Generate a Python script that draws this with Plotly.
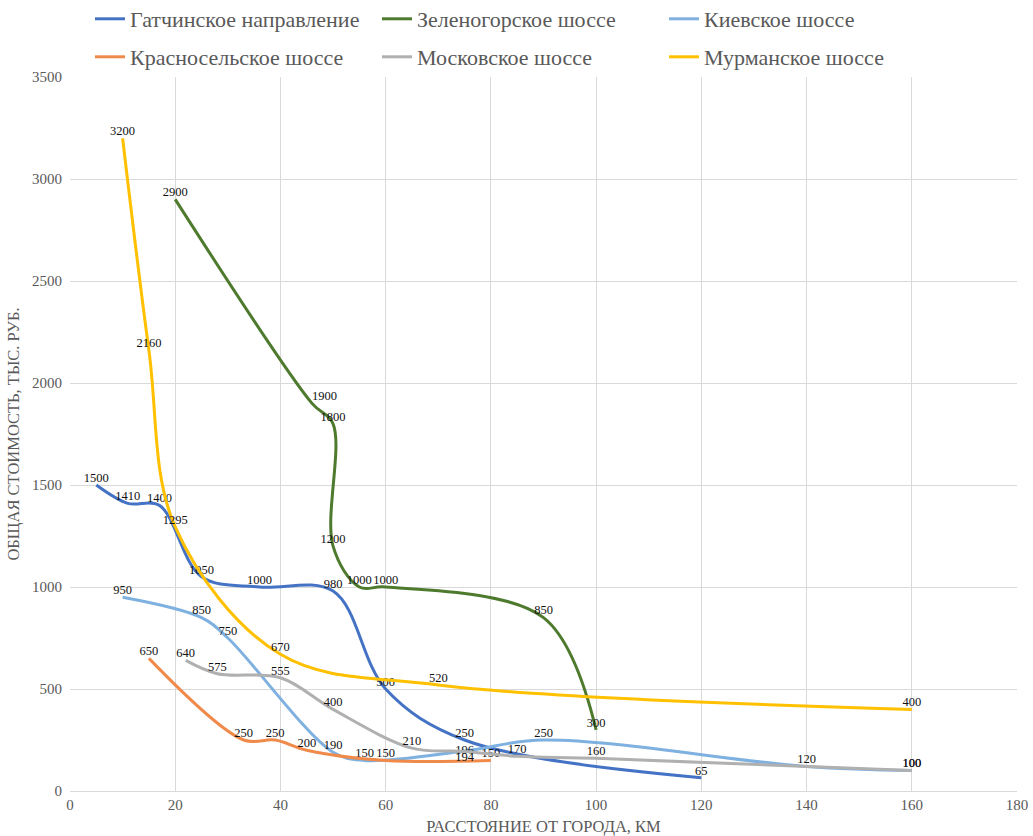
import plotly.graph_objects as go

# Distance from the city (km) and total cost (thousand roubles) per route
gatchina_x = [5, 11, 17, 25, 36, 50, 60, 75, 120]
gatchina_y = [1500, 1410, 1400, 1050, 1000, 980, 500, 250, 65]

zelenogorsk_x = [20, 46, 50, 50, 55, 60, 90, 100]
zelenogorsk_y = [2900, 1900, 1800, 1200, 1000, 1000, 850, 300]

kiev_x = [10, 25, 30, 50, 56, 75, 90, 140, 160]
kiev_y = [950, 850, 750, 190, 150, 196, 250, 120, 100]

krasnoe_x = [15, 33, 39, 45, 60, 80]
krasnoe_y = [650, 250, 250, 200, 150, 150]

moscow_x = [22, 28, 40, 50, 65, 75, 85, 100, 160]
moscow_y = [640, 575, 555, 400, 210, 194, 170, 160, 100]

murmansk_x = [10, 15, 20, 40, 70, 160]
murmansk_y = [3200, 2160, 1295, 670, 520, 400]

x_ticks = list(range(0, 181, 20))
y_ticks = list(range(0, 3501, 500))

SERIF = "Liberation Serif, Times New Roman, DejaVu Serif, serif"
TEXT_GREY = "#595959"

series = [
    ("Гатчинское направление", gatchina_x, gatchina_y, "#4472C4", "legend", None),
    ("Зеленогорское шоссе", zelenogorsk_x, zelenogorsk_y, "#4E7A2E", "legend",
     {1: "top right"}),
    ("Киевское шоссе", kiev_x, kiev_y, "#7EB0E0", "legend",
     {5: "middle center"}),
    ("Красносельское шоссе", krasnoe_x, krasnoe_y, "#F08A4B", "legend2", None),
    ("Московское шоссе", moscow_x, moscow_y, "#B0B0B0", "legend2",
     {5: "bottom center"}),
    ("Мурманское шоссе", murmansk_x, murmansk_y, "#FFC000", "legend2", None),
]

fig = go.Figure()
for name, xs, ys, color, leg, special in series:
    positions = ["top center"] * len(xs)
    if special:
        for i, p in special.items():
            positions[i] = p
    fig.add_trace(go.Scatter(
        x=xs, y=ys, name=name, legend=leg,
        mode="lines+text",
        line=dict(color=color, width=3, shape="spline", smoothing=1.0),
        text=[str(v) for v in ys],
        textposition=positions,
        textfont=dict(family=SERIF, size=12.5, color="#111111"),
        cliponaxis=False,
        hoverinfo="x+y+name",
    ))

L, R, T, B = 70, 16, 77, 45
W, H = 1033, 836
plot_w = W - L - R
plot_h = H - T - B

def paper_x(px):
    return (px - L) / plot_w

def paper_y(py):
    return (H - B - py) / plot_h

legend_common = dict(
    orientation="h",
    xanchor="left", yanchor="middle",
    x=paper_x(90),
    entrywidth=242, entrywidthmode="pixels",
    itemwidth=30,
    font=dict(family=SERIF, size=22, color=TEXT_GREY),
    bgcolor="rgba(0,0,0,0)",
)

fig.update_layout(
    width=W, height=H,
    margin=dict(l=L, r=R, t=T, b=B, autoexpand=False),
    paper_bgcolor="white", plot_bgcolor="white",
    showlegend=True,
    legend=dict(legend_common, y=paper_y(19)),
    legend2=dict(legend_common, y=paper_y(57)),
    xaxis=dict(
        range=[0, 180], tickvals=x_ticks,
        showgrid=True, gridcolor="#D9D9D9", gridwidth=1,
        zeroline=False, showline=True, linecolor="#D9D9D9", linewidth=1,
        ticks="", tickfont=dict(family=SERIF, size=15, color=TEXT_GREY),
        title=dict(text="РАССТОЯНИЕ ОТ ГОРОДА, КМ",
                   font=dict(family=SERIF, size=16.5, color=TEXT_GREY),
                   standoff=10),
    ),
    yaxis=dict(
        range=[0, 3500], tickvals=y_ticks,
        showgrid=True, gridcolor="#D9D9D9", gridwidth=1,
        zeroline=False, showline=False,
        ticks="", ticklabelstandoff=7,
        tickfont=dict(family=SERIF, size=15, color=TEXT_GREY),
        title=dict(text="ОБЩАЯ СТОИМОСТЬ, ТЫС. РУБ.",
                   font=dict(family=SERIF, size=16.5, color=TEXT_GREY),
                   standoff=8),
    ),
)

fig.write_html("out.html")
